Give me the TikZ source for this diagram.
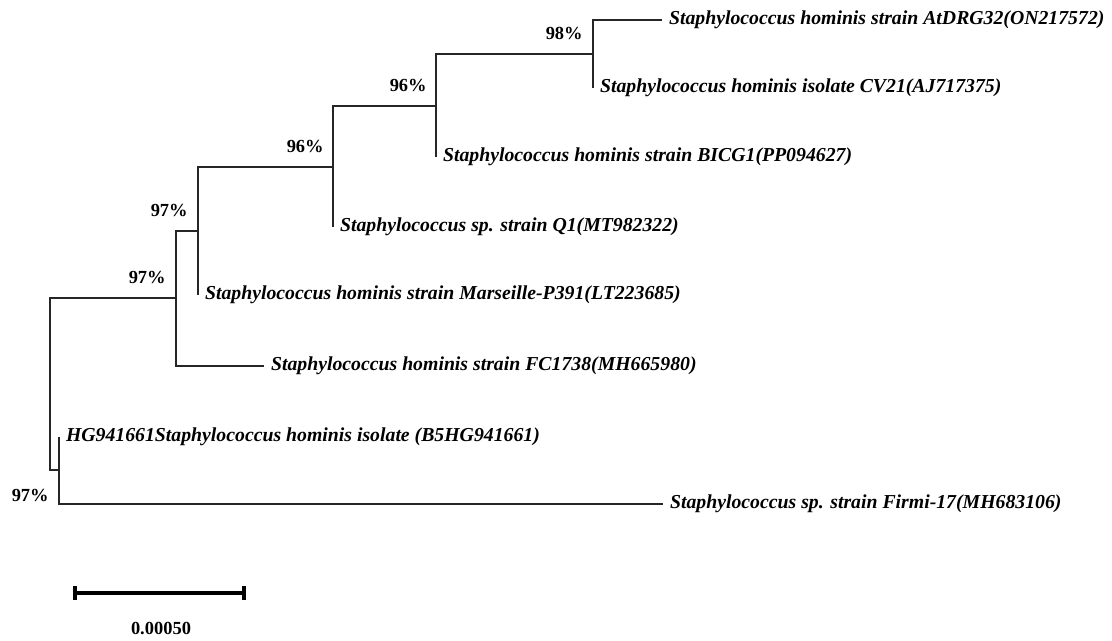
\documentclass[tikz,border=0pt]{standalone}
\usepackage{fontspec}
\setmainfont{Liberation Serif}
\usepackage{tikz}
\usetikzlibrary{arrows.meta,positioning}

\begin{document}
\begin{tikzpicture}[x=0.02cm, y=-0.02cm,
leaf/.style={anchor=west, inner xsep=3.8pt, inner ysep=0pt, font=\fontsize{11.25}{13}\selectfont\bfseries\itshape},
boot/.style={anchor=east, inner sep=0pt, font=\fontsize{10.5}{12}\selectfont\bfseries},
branch/.style={line width=0.6pt, black!85},
scalebar/.style={{Bar[width=8pt]}-{Bar[width=8pt]}, line width=2pt}
]
\useasboundingbox (0,0) rectangle (1112,640);
% internal nodes
\coordinate (n98) at (593,54);
\coordinate (n96a) at (436,106);
\coordinate (n96b) at (333,167);
\coordinate (n97a) at (198,231);
\coordinate (n97b) at (176,298);
\coordinate (root) at (50,384);
\coordinate (nhg) at (59,470);
% leaves
\node[leaf] (atdrg) at (662,20) {Staphylococcus hominis strain AtDRG32(ON217572)};
\node[leaf] (cv21) at (593,88) {Staphylococcus hominis isolate CV21(AJ717375)};
\node[leaf] (bicg1) at (436,157) {Staphylococcus hominis strain BICG1(PP094627)};
\node[leaf] (q1) at (333,227) {Staphylococcus sp. strain Q1(MT982322)};
\node[leaf] (marseille) at (198,295) {Staphylococcus hominis strain Marseille-P391(LT223685)};
\node[leaf] (fc1738) at (264,366) {Staphylococcus hominis strain FC1738(MH665980)};
\node[leaf] (hg) at (59,437) {HG941661Staphylococcus hominis isolate (B5HG941661)};
\node[leaf] (firmi) at (663,504) {Staphylococcus sp. strain Firmi-17(MH683106)};
% branches
\draw[branch] (atdrg.west) -| (n98) |- (cv21.west);
\draw[branch] (n98) -| (n96a) |- (bicg1.west);
\draw[branch] (n96a) -| (n96b) |- (q1.west);
\draw[branch] (n96b) -| (n97a) |- (marseille.west);
\draw[branch] (n97a) -| (n97b) |- (fc1738.west);
\draw[branch] (n97b) -| (root) |- (nhg);
\draw[branch] (hg.west) -| (nhg) |- (firmi.west);
% bootstrap values
\node[boot] (b98) at (583,33) {98\%};
\node[boot] (b96a) at (427,85) {96\%};
\node[boot] (b96b) at (324,146) {96\%};
\node[boot] (b97a) at (188,210) {97\%};
\node[boot] (b97b) at (166,277) {97\%};
\node[boot] (b97r) at (49,495) {97\%};
% scale
\coordinate (sbl) at (73,593);
\coordinate (sbr) at (246,593);
\coordinate (sbm) at (161,593);
\draw[scalebar] (sbl) -- (sbr);
\node[boot, anchor=north, below=0.58cm of sbm] (sblabel) {0.00050};
\end{tikzpicture}
\end{document}
